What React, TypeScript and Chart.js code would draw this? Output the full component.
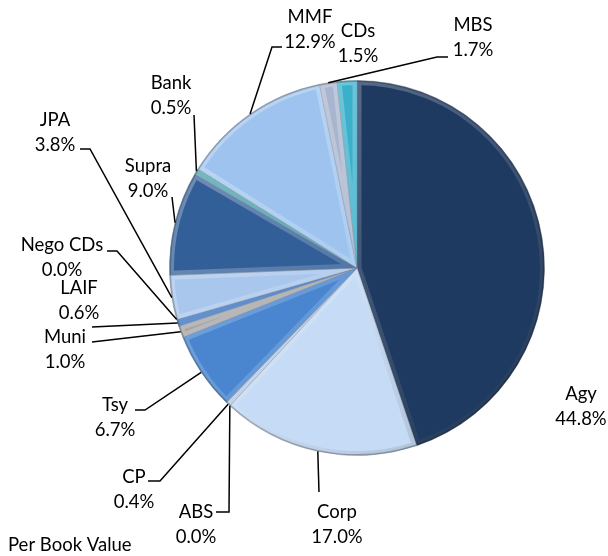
import React, { useEffect, useRef } from "react";
import { Chart, registerables } from "chart.js";

Chart.register(...registerables);

const categories = ["Agy", "Corp", "ABS", "CP", "Tsy", "Muni", "LAIF", "Nego CDs", "JPA", "Supra", "Bank", "MMF", "CDs", "MBS"];
const values = [44.8, 17.0, 0.0, 0.4, 6.7, 1.0, 0.6, 0.0, 3.8, 9.0, 0.5, 12.9, 1.5, 1.7];
const sliceColors = ["#1F3A60", "#C6DBF5", "#2F5E99", "#B9CDE5", "#4A86D0", "#A6A6A6", "#3A74C0", "#8EB4E3", "#A9C6EC", "#335F98", "#3E9BA5", "#9DC3EE", "#A9B5CE", "#3AB0CB"];
const chartTitle = "Per Book Value";

// label layout: text centre x, first line centre y, leader points after the arc anchor
type LabelLayout = { cx: number; y: number; pts: number[][]; anchor?: number };
const labelLayout: LabelLayout[] = [
  { cx: 581, y: 394, pts: [] },
  { cx: 337, y: 512, pts: [[319, 492]] },
  { cx: 196, y: 512, pts: [[229, 512], [216, 512]] },
  { cx: 134, y: 477, pts: [[160, 481], [148, 481]] },
  { cx: 115, y: 405, pts: [[145, 410], [135, 410]] },
  { cx: 65, y: 337, pts: [[92, 342]] },
  { cx: 79, y: 288, pts: [[92, 327]] },
  { cx: 62, y: 245, pts: [[117, 251], [107, 251]] },
  { cx: 55, y: 120, pts: [[90, 149], [80, 149]] },
  { cx: 148, y: 166, pts: [[172, 197]] },
  { cx: 171, y: 83, pts: [[194, 115]] },
  { cx: 310, y: 17, pts: [[272, 47], [282, 47]] },
  { cx: 358, y: 31, pts: [] },
  { cx: 473, y: 25, pts: [[437, 57], [448, 57]], anchor: 12 },
];

const FONT = "18.5px Lato, 'Open Sans', sans-serif";
const LINE_GAP = 25;

const bevelPlugin = {
  id: "bevel",
  afterDatasetsDraw(chart: any) {
    const ctx = chart.ctx;
    const meta = chart.getDatasetMeta(0);
    meta.data.forEach((arc: any) => {
      const { x, y, startAngle, endAngle, outerRadius } = arc;
      if (endAngle - startAngle < 0.0005) return;
      ctx.save();
      ctx.beginPath();
      ctx.moveTo(x, y);
      ctx.arc(x, y, outerRadius, startAngle, endAngle);
      ctx.closePath();
      ctx.clip();
      const g = ctx.createLinearGradient(x - outerRadius, y - outerRadius, x + outerRadius, y + outerRadius);
      g.addColorStop(0, "rgba(255,255,255,0.35)");
      g.addColorStop(0.5, "rgba(255,255,255,0.15)");
      g.addColorStop(1, "rgba(0,0,0,0.2)");
      ctx.lineWidth = 9;
      ctx.strokeStyle = g;
      ctx.beginPath();
      ctx.moveTo(x, y);
      ctx.arc(x, y, outerRadius, startAngle, endAngle);
      ctx.closePath();
      ctx.stroke();
      ctx.lineWidth = 3;
      ctx.strokeStyle = "rgba(0,0,0,0.22)";
      ctx.beginPath();
      ctx.arc(x, y, outerRadius, startAngle, endAngle);
      ctx.stroke();
      ctx.restore();
    });
  },
};

const labelPlugin = {
  id: "pieLabels",
  afterDraw(chart: any) {
    const ctx = chart.ctx;
    const meta = chart.getDatasetMeta(0);
    ctx.save();
    ctx.font = FONT;
    ctx.fillStyle = "#000";
    ctx.textAlign = "center";
    ctx.textBaseline = "middle";
    ctx.strokeStyle = "#000";
    ctx.lineWidth = 1.5;
    categories.forEach((cat, i) => {
      const lay = labelLayout[i];
      const arc = meta.data[lay.anchor ?? i];
      if (lay.pts.length) {
        const mid = (arc.startAngle + arc.endAngle) / 2;
        const ax = arc.x + Math.cos(mid) * arc.outerRadius;
        const ay = arc.y + Math.sin(mid) * arc.outerRadius;
        ctx.beginPath();
        ctx.moveTo(ax, ay);
        lay.pts.forEach((p) => ctx.lineTo(p[0], p[1]));
        ctx.stroke();
      }
      ctx.fillText(cat, lay.cx, lay.y);
      ctx.fillText(values[i].toFixed(1) + "%", lay.cx, lay.y + LINE_GAP);
    });
    ctx.textAlign = "left";
    ctx.fillText(chartTitle, 8, 545);
    ctx.restore();
  },
};

export default function App() {
  const ref = useRef<HTMLCanvasElement>(null);
  useEffect(() => {
    if (!ref.current) return;
    const chart = new Chart(ref.current, {
      type: "pie",
      data: {
        labels: categories,
        datasets: [
          {
            data: values,
            backgroundColor: sliceColors,
            borderColor: "rgba(90,100,120,0.35)",
            borderWidth: 1,
            hoverOffset: 0,
          },
        ],
      },
      options: {
        responsive: false,
        animation: false,
        layout: { padding: { left: 169, right: 63, top: 80, bottom: 100 } },
        plugins: { legend: { display: false }, tooltip: { enabled: false }, title: { display: false } },
      },
      plugins: [bevelPlugin, labelPlugin],
    });
    return () => chart.destroy();
  }, []);
  return (
    <div style={{ position: "absolute", left: 0, top: 0, width: 608, height: 556, background: "#fff" }}>
      <canvas ref={ref} width={608} height={556} />
    </div>
  );
}
